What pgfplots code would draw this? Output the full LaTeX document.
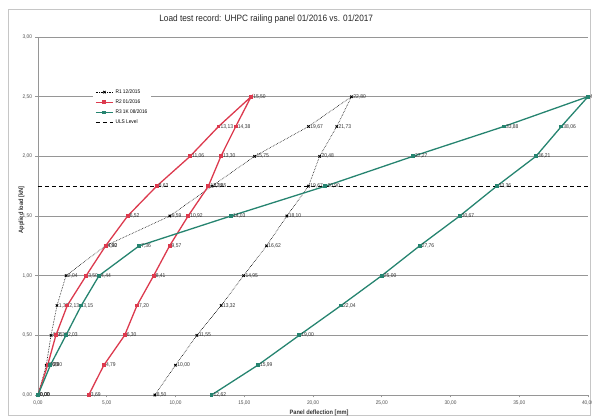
\documentclass[border=0pt]{standalone}
\usepackage{fontspec}
\setmainfont{Liberation Sans}[FakeStretch=0.9]
\usepackage{pgfplots}
\pgfplotsset{compat=1.18}
\definecolor{rtwo}{RGB}{220,58,78}
\definecolor{rthree}{RGB}{38,132,112}
\definecolor{gridc}{RGB}{150,150,150}
\begin{document}
\begin{tikzpicture}
\useasboundingbox (-38pt,-24pt) rectangle (554pt,395pt);
\draw[gray!45, line width=0.6pt] (-30pt,-20pt) rectangle (552pt,386pt);
\begin{axis}[
  at={(0pt,0pt)}, anchor=south west,
  scale only axis, width=550pt, height=358pt,
  xmin=0, xmax=40, ymin=0, ymax=3,
  xtick={0,5,10,15,20,25,30,35,40},
  ytick={0,0.5,1,1.5,2,2.5,3},
  axis x line*=bottom, axis y line*=left,
  axis line style={gridc, line width=0.7pt, -},
  tick align=outside, major tick length=2.5pt,
  tick style={gridc, line width=0.6pt},
  ymajorgrids, grid style={gridc, line width=0.6pt},
  /pgf/number format/.cd, fixed, fixed zerofill, precision=2, use comma, assume math mode=true,
  /pgfplots/.cd,
  ticklabel style={font=\fontsize{5.3}{6}\selectfont, text=black!70},
  title={Load test record: UHPC railing panel 01/2016 vs. 01/2017},
  title style={at={(axis description cs:0.415,1.034)}, anchor=center, font=\fontsize{9.2}{11}\selectfont, text=black!85},
  xlabel={Panel deflection [mm]},
  xlabel style={at={(axis description cs:0.511,-0.05)}, anchor=center, font=\bfseries\fontsize{6.3}{7}\selectfont, text=black!80},
  ylabel={Applied load [kN]},
  ylabel style={at={(axis description cs:-0.03,0.517)}, anchor=center, font=\bfseries\fontsize{6.3}{7}\selectfont, text=black!80},
  legend style={at={(axis description cs:0.10,0.865)}, anchor=north west, draw=none, fill=white,
    font=\fontsize{5.3}{6}\selectfont, row sep=0.8pt, inner sep=2pt},
  legend cell align=left,
  nodes near coords, point meta=x,
  every node near coord/.append style={anchor=west, font=\fontsize{5.5}{6}\selectfont, text=black!80, inner sep=1.5pt},
  clip=false,
]
\addplot[black, densely dotted, line width=0.6pt, mark=x, mark size=1.7pt, mark options={solid, line width=0.9pt}]
 table {
x y
0.00 0
0.60 0.25
0.95 0.5
1.38 0.75
2.04 1.0
4.90 1.25
9.59 1.5
12.65 1.75
15.75 2.0
19.67 2.25
22.80 2.5
21.73 2.25
20.48 2.0
19.67 1.75
18.10 1.5
16.62 1.25
14.95 1.0
13.32 0.75
11.55 0.5
10.00 0.25
8.50 0
};
\addlegendentry{R1 12/2015}
\addplot[rtwo, line width=1.3pt, mark=square*, mark size=1.3pt]
 table {
x y
0.00 0
0.70 0.25
1.30 0.5
2.13 0.75
3.50 1.0
4.92 1.25
6.52 1.5
8.63 1.75
11.06 2.0
13.13 2.25
15.50 2.5
14.38 2.25
13.30 2.0
12.39 1.75
10.92 1.5
9.57 1.25
8.41 1.0
7.20 0.75
6.30 0.5
4.79 0.25
3.69 0
};
\addlegendentry{R2 01/2016}
\addplot[rthree, line width=1.3pt, mark=square*, mark size=1.3pt]
 table {
x y
0.00 0
0.90 0.25
2.03 0.5
3.15 0.75
4.44 1.0
7.36 1.25
14.03 1.5
20.90 1.75
27.27 2.0
33.88 2.25
40.00 2.5
38.06 2.25
36.21 2.0
33.36 1.75
30.67 1.5
27.76 1.25
25.00 1.0
22.04 0.75
19.00 0.5
15.99 0.25
12.62 0
};
\addlegendentry{R3 1K 08/2016}
\addplot[black, line width=0.9pt, dash pattern=on 4pt off 3pt, nodes near coords=\empty]
 table {
x y
0 1.75
40 1.75
};
\addlegendentry{ULS Level}
\end{axis}
\end{tikzpicture}
\end{document}
